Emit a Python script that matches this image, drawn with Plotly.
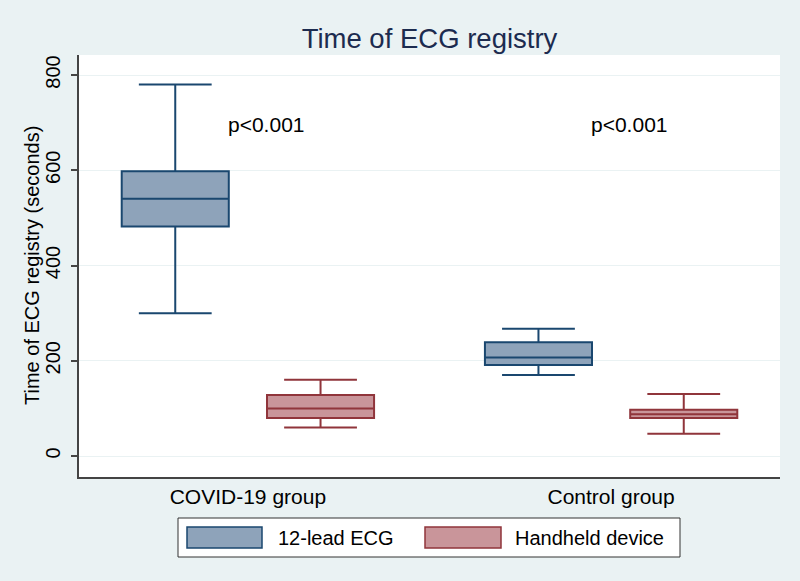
import plotly.graph_objects as go

# ---- data ----
groups = ["COVID-19 group", "Control group"]
group_pos = [0, 1]
series_names = ["12-lead ECG", "Handheld device"]

ecg_lower = [300, 170]
ecg_q1 = [482, 191]
ecg_median = [540, 207]
ecg_q3 = [598, 239]
ecg_upper = [780, 267]

hh_lower = [60, 47]
hh_q1 = [80, 80]
hh_median = [100, 88]
hh_q3 = [128, 97]
hh_upper = [160, 130]

p_labels = ["p<0.001", "p<0.001"]
p_y = [697, 697]

y_ticks = [0, 200, 400, 600, 800]
y_title = "Time of ECG registry (seconds)"

# ---- styles ----
line_colors = ["#1a476f", "#90353b"]
fill_colors = ["#8ea3ba", "#c9959a"]
FONT = "Liberation Sans, Arial, Helvetica, sans-serif"

fig = go.Figure()
stats = [
    (ecg_lower, ecg_q1, ecg_median, ecg_q3, ecg_upper),
    (hh_lower, hh_q1, hh_median, hh_q3, hh_upper),
]
for i, (lo, q1, med, q3, up) in enumerate(stats):
    fig.add_trace(go.Box(
        name=series_names[i],
        x=group_pos,
        lowerfence=lo, q1=q1, median=med, q3=q3, upperfence=up,
        fillcolor=fill_colors[i],
        line=dict(color=line_colors[i], width=2),
        whiskerwidth=0.68,
        boxpoints=False,
        showlegend=False,
        hoverinfo="y",
    ))

for gx, txt, yy in zip(group_pos, p_labels, p_y):
    fig.add_annotation(x=gx + 0.05, y=yy, xref="x", yref="y", text=txt,
                       showarrow=False, font=dict(size=21, color="#000000", family=FONT))

# ---- custom legend (Stata-like wide swatches) ----
W, H = 800, 581
L, R, T, B = 79, 20, 55, 104
pw, ph = W - L - R, H - T - B


def px(x):
    return (x - L) / pw


def py(y):
    return (H - B - y) / ph


fig.add_shape(type="rect", xref="paper", yref="paper",
              x0=px(178), x1=px(680), y0=py(557), y1=py(518),
              line=dict(color="#333333", width=1), fillcolor="#ffffff", layer="above")
swatch_x = [(187, 262), (425, 501)]
text_x = [276, 513]
for i in range(2):
    fig.add_shape(type="rect", xref="paper", yref="paper",
                  x0=px(swatch_x[i][0]), x1=px(swatch_x[i][1]), y0=py(548), y1=py(527),
                  line=dict(color=line_colors[i], width=1.5), fillcolor=fill_colors[i], layer="above")
    fig.add_annotation(xref="paper", yref="paper", x=px(text_x[i]), y=py(537.5),
                       xanchor="left", yanchor="middle", text=series_names[i], showarrow=False,
                       font=dict(size=20, color="#000000", family=FONT))

# y-axis title placed as rotated text
fig.add_annotation(xref="paper", yref="paper", x=px(32), y=0.5, xanchor="center", yanchor="middle",
                   text=y_title, textangle=-90, showarrow=False,
                   font=dict(size=20, color="#000000", family=FONT))

fig.update_layout(
    width=W, height=H,
    margin=dict(l=L, r=R, t=T, b=B, autoexpand=False),
    paper_bgcolor="#eaf2f3",
    plot_bgcolor="#ffffff",
    boxmode="group",
    boxgap=0.2,
    boxgroupgap=0.263,
    font=dict(family=FONT, size=20, color="#000000"),
    title=dict(text="Time of ECG registry", x=0.5, xref="paper", y=1 - 38 / H, yref="container",
               xanchor="center", yanchor="middle",
               font=dict(size=27.5, color="#1c2b4f", family=FONT)),
    xaxis=dict(
        range=[-0.465, 1.465],
        tickvals=group_pos, ticktext=groups,
        showgrid=False, zeroline=False,
        showline=True, linecolor="#444444", linewidth=1.5,
        ticks="", tickfont=dict(size=21),
        ticklabelstandoff=0,
    ),
    yaxis=dict(
        range=[-44, 842],
        tickvals=y_ticks,
        tickangle=-90,
        showgrid=True, gridcolor="#eaf2f3", gridwidth=1,
        zeroline=False,
        showline=True, linecolor="#444444", linewidth=1.5,
        ticks="outside", ticklen=6, tickcolor="#444444", tickwidth=1.5,
        tickfont=dict(size=20),
        ticklabelstandoff=3,
    ),
)

fig.write_html("out.html", config={"displayModeBar": False},
               post_script="document.body.style.margin='0';")
